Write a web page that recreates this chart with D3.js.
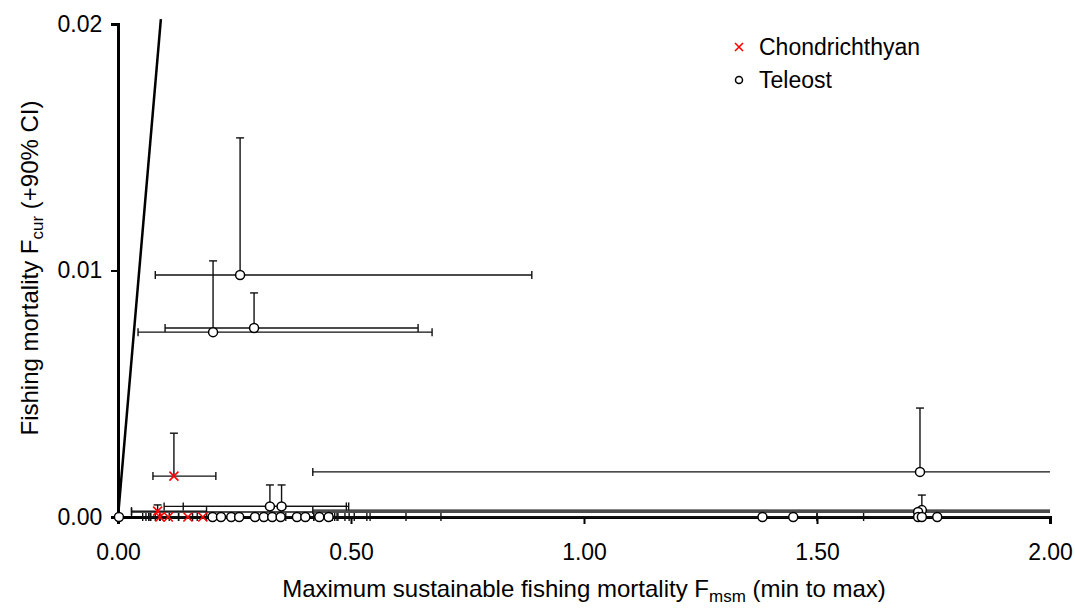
<!DOCTYPE html>
<html>
<head>
<meta charset="utf-8">
<script src="https://cdn.jsdelivr.net/npm/d3@7"></script>
<style>
  body { margin: 0; background: #fff; }
  svg { font-family: "Liberation Sans", Arial, sans-serif; }
</style>
</head>
<body>
<svg id="chart" width="1075" height="610"></svg>
<script>
// Axis ticks
const xTicks = [0, 0.5, 1, 1.5, 2];
const yTicks = [0, 0.01, 0.02];

// Teleost: F_msm point, min, max, F_cur point, upper 90% CI
const teleostX    = [0.002, 0.262, 0.204, 0.292, 1.721, 1.725, 0.326, 0.351, 1.717,
                     0.203, 0.221, 0.243, 0.260, 0.294, 0.313, 0.331, 0.349, 0.384, 0.402, 0.432, 0.452,
                     1.383, 1.449, 1.717, 1.725, 1.758];
const teleostXmin = [0.002, 0.080, 0.043, 0.101, 0.418, 0.418, 0.099, 0.140, 0.029,
                     0.053, 0.060, 0.066, 0.066, 0.070, 0.080, 0.090, 0.300, 0.330, 0.360, 0.400, 0.420,
                     0.618, 0.693, 1.500, 1.500, 1.600];
const teleostXmax = [0.002, 0.888, 0.674, 0.644, 2.5, 2.5, 0.490, 0.495, 2.5,
                     0.465, 0.472, 0.487, 0.496, 0.507, 0.534, 0.541, 0.400, 0.420, 0.430, 0.460, 0.470,
                     2.5, 2.5, 2.5, 2.5, 2.5];
const teleostY    = [0, 0.00982, 0.0075, 0.00767, 0.00183, 0.00028, 0.00043, 0.00043, 0.0002,
                     0, 0, 0, 0, 0, 0, 0, 0, 0, 0, 0, 0,
                     0, 0, 0, 0, 0];
const teleostYup  = [0, 0.01538, 0.01039, 0.00909, 0.00442, 0.00089, 0.0013, 0.0013, 0.0002,
                     0, 0, 0, 0, 0, 0, 0, 0, 0, 0, 0, 0,
                     0, 0, 0, 0, 0];

// Chondrichthyan
const chondX    = [0.120, 0.085, 0.090, 0.108, 0.150, 0.182];
const chondXmin = [0.075, 0.029, 0.070, 0.090, 0.130, 0.160];
const chondXmax = [0.210, 0.190, 0.110, 0.130, 0.170, 0.190];
const chondY    = [0.00166, 0.00024, 0, 0, 0, 0];
const chondYup  = [0.0034, 0.00049, 0, 0, 0, 0];

// Reference line through the origin
const refLineX = [0, 0.092];
const refLineY = [0, 0.0202];

const svg = d3.select("#chart");
const margin = {left: 118, right: 25, top: 24, bottom: 93};
const width = 1075, height = 610;
const fontSize = 23;

const x = d3.scaleLinear().domain([0, 2]).range([margin.left, width - margin.right]);
const y = d3.scaleLinear().domain([0, 0.02]).range([height - margin.bottom, margin.top]);

function rows(xs, xmin, xmax, ys, yup) {
    return xs.map((v, i) => ({x: v, xmin: xmin[i], xmax: xmax[i], y: ys[i], yup: yup[i]}));
}
const teleost = rows(teleostX, teleostXmin, teleostXmax, teleostY, teleostYup);
const chond = rows(chondX, chondXmin, chondXmax, chondY, chondYup);
const allPoints = teleost.concat(chond);

// clip so long bars stop at 2.00
svg.append("clipPath").attr("id", "plotclip")
    .append("rect").attr("x", 0).attr("y", 18).attr("width", x(2)).attr("height", height);

// Axes
const xAxis = svg.append("g")
    .attr("transform", `translate(0,${y(0)})`)
    .call(d3.axisBottom(x).tickValues(xTicks).tickFormat(d3.format(".2f")).tickSizeOuter(0).tickSize(7));
const yAxis = svg.append("g")
    .attr("transform", `translate(${x(0)},0)`)
    .call(d3.axisLeft(y).tickValues(yTicks).tickFormat(d3.format(".2f")).tickSizeOuter(0).tickSize(7));
[xAxis, yAxis].forEach(a => {
    a.select(".domain").attr("stroke", "#000").attr("stroke-width", 3);
    a.selectAll(".tick line").attr("stroke", "#000").attr("stroke-width", 2);
    a.selectAll(".tick text").attr("font-size", fontSize).attr("fill", "#000")
        .attr("font-family", "Liberation Sans, Arial, sans-serif");
});
xAxis.selectAll(".tick text").attr("dy", "1.43em");
yAxis.selectAll(".tick text").attr("dx", "-0.25em");

// Reference line
const line = d3.line().x(d => x(d[0])).y(d => y(d[1]));
svg.append("path")
    .attr("clip-path", "url(#plotclip)")
    .attr("d", line(refLineX.map((v, i) => [v, refLineY[i]])))
    .attr("stroke", "#000").attr("stroke-width", 2.5).attr("fill", "none");

// Error bars
const cap = 4;
const bars = svg.append("g").attr("clip-path", "url(#plotclip)")
    .attr("stroke", "#111").attr("stroke-width", 1.4).attr("fill", "none");
allPoints.forEach(d => {
    bars.append("line").attr("x1", x(d.xmin)).attr("x2", x(d.xmax)).attr("y1", y(d.y)).attr("y2", y(d.y));
    bars.append("line").attr("x1", x(d.xmin)).attr("x2", x(d.xmin)).attr("y1", y(d.y) - cap).attr("y2", y(d.y) + cap);
    bars.append("line").attr("x1", x(d.xmax)).attr("x2", x(d.xmax)).attr("y1", y(d.y) - cap).attr("y2", y(d.y) + cap);
    if (d.yup > d.y) {
        bars.append("line").attr("x1", x(d.x)).attr("x2", x(d.x)).attr("y1", y(d.y)).attr("y2", y(d.yup));
        bars.append("line").attr("x1", x(d.x) - cap).attr("x2", x(d.x) + cap).attr("y1", y(d.yup)).attr("y2", y(d.yup));
    }
});

// Markers
svg.append("g").selectAll("circle").data(teleost).join("circle")
    .attr("cx", d => x(d.x)).attr("cy", d => y(d.y)).attr("r", 4.5)
    .attr("fill", "#fff").attr("stroke", "#000").attr("stroke-width", 1.5);

function cross(g, cx, cy, s) {
    g.append("path")
        .attr("d", `M${cx - s},${cy - s}L${cx + s},${cy + s}M${cx - s},${cy + s}L${cx + s},${cy - s}`)
        .attr("stroke", "#f00").attr("stroke-width", 1.6).attr("fill", "none");
}
const crossLayer = svg.append("g");
chond.forEach(d => cross(crossLayer, x(d.x), y(d.y), 4.5));

// Legend
const legend = svg.append("g");
cross(legend, 739, 47, 4);
legend.append("circle").attr("cx", 739).attr("cy", 80).attr("r", 3.5)
    .attr("fill", "#fff").attr("stroke", "#000").attr("stroke-width", 1.5);
legend.append("text").attr("x", 759).attr("y", 55).attr("font-size", fontSize).text("Chondrichthyan");
legend.append("text").attr("x", 759).attr("y", 88).attr("font-size", fontSize).text("Teleost");

// Axis titles
const xt = svg.append("text").attr("x", x(1)).attr("y", 597).attr("text-anchor", "middle").attr("font-size", 24);
xt.append("tspan").text("Maximum sustainable fishing mortality F");
xt.append("tspan").attr("font-size", 17).attr("dy", 5).text("msm");
xt.append("tspan").attr("dy", -5).text(" (min to max)");

const yt = svg.append("text").attr("transform", `translate(38,268) rotate(-90)`)
    .attr("text-anchor", "middle").attr("font-size", 24);
yt.append("tspan").text("Fishing mortality F");
yt.append("tspan").attr("font-size", 17).attr("dy", 5).text("cur");
yt.append("tspan").attr("dy", -5).text(" (+90% CI)");
</script>
</body>
</html>
